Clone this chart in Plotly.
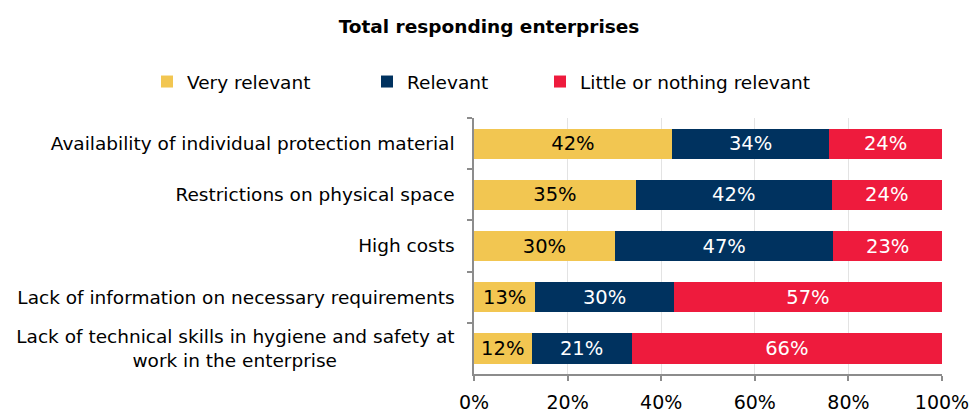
import plotly.graph_objects as go

# Survey results: share of enterprises rating each obstacle (%)
categories = [
    "Availability of individual protection material",
    "Restrictions on physical space",
    "High costs",
    "Lack of information on necessary requirements",
    "Lack of technical skills in hygiene and safety at<br>work in the enterprise"
    + "\u00a0" * 20,
]
very_relevant = [42.3, 34.6, 30.1, 13.1, 12.3]
relevant = [33.6, 41.8, 46.7, 29.6, 21.4]
little_or_nothing = [24.1, 23.6, 23.2, 57.3, 66.3]

series_names = ["Very relevant", "Relevant", "Little or nothing relevant"]
series_values = [very_relevant, relevant, little_or_nothing]
colors = ["#F2C651", "#00325F", "#EE1B3D"]
text_colors = ["#000000", "#FFFFFF", "#FFFFFF"]
legend_ids = ["legend2", "legend3", "legend4"]
legend_x_px = [147, 367, 540]

FONT = "DejaVu Sans"
W, H = 971, 415

fig = go.Figure()
for name, vals, col, tcol, lg in zip(series_names, series_values, colors, text_colors, legend_ids):
    fig.add_trace(go.Bar(
        y=categories, x=vals, name=name, orientation="h",
        marker=dict(color=col, line=dict(width=0)),
        texttemplate="%{x:.0f}%", textposition="inside",
        insidetextanchor="middle",
        textfont=dict(family=FONT, size=19.5, color=tcol),
        legend=lg,
    ))

legend_common = dict(
    orientation="h", xref="container", yref="container",
    yanchor="middle", xanchor="left", y=1 - 82 / H,
    font=dict(family=FONT, size=18.5, color="#000000"),
    bgcolor="rgba(0,0,0,0)", borderwidth=0,
)
legends = {lg: dict(legend_common, x=px / W) for lg, px in zip(legend_ids, legend_x_px)}

fig.update_layout(
    width=W, height=H,
    margin=dict(l=474, r=29, t=118, b=41, autoexpand=False),
    barmode="stack", bargap=0.41,
    plot_bgcolor="white", paper_bgcolor="white",
    font=dict(family=FONT, size=18.5, color="#000000"),
    title=dict(
        text="<b>Total responding enterprises</b>",
        xref="container", yref="container",
        x=489 / W, xanchor="center", y=1 - 27 / H, yanchor="middle",
        font=dict(family=FONT, size=18.5, color="#000000"),
    ),
    uniformtext=dict(mode=False),
    xaxis=dict(
        range=[0, 100], dtick=20, tick0=0, ticksuffix="%",
        showgrid=True, gridcolor="#E3E3E3", gridwidth=1,
        showline=True, linecolor="#8C8C8C", linewidth=1.5,
        ticks="outside", ticklen=5, tickcolor="#8C8C8C", tickwidth=1.5,
        ticklabelstandoff=5,
        tickfont=dict(family=FONT, size=19, color="#000000"),
        zeroline=False, fixedrange=True, automargin=False,
    ),
    yaxis=dict(
        categoryorder="array", categoryarray=categories, autorange="reversed",
        showline=True, linecolor="#8C8C8C", linewidth=1.5,
        ticks="outside", ticklen=5, tickcolor="#8C8C8C", tickwidth=1.5,
        tickson="boundaries", ticklabelstandoff=14,
        tickfont=dict(family=FONT, size=18.5, color="#000000"),
        showgrid=False, fixedrange=True, automargin=False,
    ),
    **legends,
)

fig.write_html("out.html")
